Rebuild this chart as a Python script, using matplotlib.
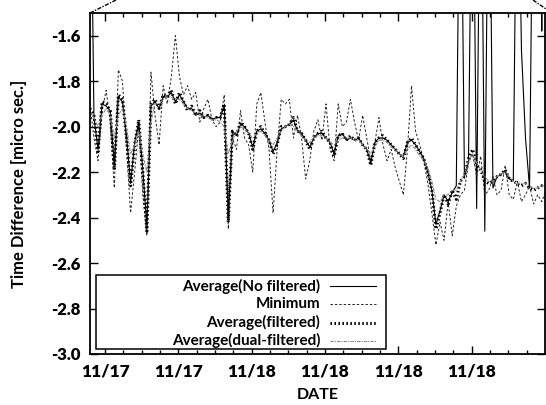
import matplotlib
matplotlib.use("Agg")
import matplotlib.pyplot as plt
import matplotlib.dates as mdates
from matplotlib.ticker import MultipleLocator, FormatStrFormatter
from matplotlib.patches import Rectangle
from matplotlib.lines import Line2D
import pandas as pd

# 20-minute samples, 11/17 10:45 -> 11/19 00:05
times = pd.date_range("2008-11-17 10:45", periods=113, freq="20min")

# time difference [micro sec.]
avg_raw = [
    -0.50, -1.96, -2.10, -1.90, -1.91, -1.93, -2.17, -1.87, -1.89, -2.04,
    -2.25, -2.07, -1.98, -2.19, -2.44, -1.91, -1.89, -1.92, -1.87, -1.87,
    -1.85, -1.89, -1.86, -1.89, -1.92, -1.92, -1.95, -1.94, -1.96, -1.95,
    -1.97, -1.96, -1.96, -1.91, -2.40, -2.02, -2.04, -1.99, -2.00, -2.03,
    -2.09, -2.02, -2.01, -2.03, -2.06, -2.11, -2.07, -2.01, -2.00, -1.99,
    -1.97, -2.02, -2.03, -2.06, -2.09, -2.05, -2.03, -2.03, -2.05, -2.07,
    -2.12, -2.04, -2.03, -2.06, -2.05, -2.06, -2.05, -2.08, -2.10, -2.16,
    -2.07, -2.05, -2.05, -2.06, -2.08, -2.10, -2.12, -2.13, -2.07, -2.06,
    -2.08, -2.11, -2.14, -2.20, -2.28, -2.43, -2.37, -2.30, -2.33, -2.29,
    -2.26, -0.50, -2.22, -2.15, -0.50, -2.36, -0.50, -2.46, -0.50, -2.27,
    -2.22, -2.21, -2.20, -2.23, -2.24, -0.50, -1.66, -2.05, -2.27, -0.50,
    -0.50, -1.58, -0.50,
]

minimum = [
    -1.90, -2.05, -2.15, -1.93, -1.84, -1.98, -2.27, -1.75, -1.80, -2.10,
    -2.38, -2.20, -2.00, -2.30, -2.48, -1.76, -1.95, -2.08, -1.82, -1.90,
    -1.78, -1.60, -1.78, -1.86, -1.82, -1.88, -1.85, -1.98, -1.92, -1.88,
    -1.97, -2.00, -1.98, -1.86, -2.45, -2.05, -2.10, -1.93, -2.05, -2.08,
    -2.20, -1.90, -1.85, -1.98, -2.10, -2.38, -2.10, -1.88, -1.90, -1.88,
    -2.05, -1.95, -2.05, -2.23, -2.15, -2.02, -1.97, -2.06, -1.90, -2.10,
    -2.15, -1.90, -2.00, -1.98, -1.88, -1.98, -2.06, -1.95, -2.05, -2.15,
    -2.07, -1.96, -2.08, -2.15, -2.10, -2.18, -2.24, -2.30, -2.10, -1.82,
    -2.02, -2.08, -2.15, -2.25, -2.38, -2.52, -2.42, -2.50, -2.33, -2.48,
    -2.35, -2.30, -2.28, -2.16, -2.12, -2.22, -2.13, -2.30, -2.28, -2.22,
    -2.30, -2.28, -2.17, -2.30, -2.32, -2.24, -2.33, -2.30, -2.26, -2.34,
    -2.30, -2.33, -2.28,
]

avg_filtered = [
    -1.92, -1.95, -2.11, -1.89, -1.90, -1.93, -2.19, -1.86, -1.88, -2.05,
    -2.26, -2.08, -1.97, -2.20, -2.46, -1.90, -1.88, -1.92, -1.86, -1.87,
    -1.84, -1.90, -1.85, -1.89, -1.93, -1.91, -1.95, -1.93, -1.96, -1.95,
    -1.97, -1.96, -1.96, -1.90, -2.42, -2.02, -2.04, -1.98, -2.00, -2.03,
    -2.10, -2.02, -2.00, -2.03, -2.06, -2.12, -2.08, -2.00, -2.00, -1.99,
    -1.96, -2.02, -2.03, -2.06, -2.10, -2.05, -2.03, -2.02, -2.05, -2.07,
    -2.13, -2.04, -2.03, -2.06, -2.04, -2.06, -2.05, -2.08, -2.10, -2.17,
    -2.07, -2.05, -2.04, -2.06, -2.08, -2.10, -2.12, -2.14, -2.07, -2.05,
    -2.08, -2.11, -2.14, -2.20, -2.28, -2.45, -2.38, -2.30, -2.34, -2.28,
    -2.32, -2.24, -2.22, -2.14, -2.10, -2.17, -2.19, -2.24, -2.25, -2.24,
    -2.22, -2.21, -2.19, -2.23, -2.24, -2.25, -2.26, -2.25, -2.27, -2.28,
    -2.27, -2.26, -2.26,
]

avg_dual = [
    -1.93, -1.96, -2.00, -1.95, -1.92, -1.95, -2.05, -1.95, -1.92, -2.00,
    -2.12, -2.08, -2.02, -2.12, -2.20, -1.98, -1.90, -1.90, -1.88, -1.87,
    -1.87, -1.88, -1.88, -1.90, -1.92, -1.93, -1.94, -1.95, -1.95, -1.96,
    -1.97, -1.97, -1.98, -2.00, -2.12, -2.06, -2.02, -2.00, -2.01, -2.03,
    -2.05, -2.03, -2.02, -2.04, -2.06, -2.08, -2.05, -2.02, -2.00, -1.99,
    -2.00, -2.02, -2.04, -2.06, -2.07, -2.05, -2.04, -2.04, -2.05, -2.07,
    -2.08, -2.06, -2.05, -2.05, -2.05, -2.06, -2.06, -2.08, -2.10, -2.12,
    -2.09, -2.06, -2.06, -2.07, -2.09, -2.10, -2.12, -2.13, -2.10, -2.08,
    -2.10, -2.13, -2.15, -2.18, -2.24, -2.32, -2.33, -2.30, -2.30, -2.28,
    -2.28, -2.24, -2.21, -2.15, -2.12, -2.16, -2.19, -2.22, -2.24, -2.24,
    -2.22, -2.21, -2.20, -2.22, -2.24, -2.25, -2.25, -2.25, -2.26, -2.27,
    -2.27, -2.26, -2.26,
]

series_labels = [
    "Average(No filtered)",
    "Minimum",
    "Average(filtered)",
    "Average(dual-filtered)",
]

plt.rcParams["font.family"] = ["Lato", "DejaVu Sans"]
plt.rcParams["axes.unicode_minus"] = False

line_styles = [
    dict(color="black", lw=0.8, ls="-"),
    dict(color="#222222", lw=0.7, ls=(0, (2.5, 2))),
    dict(color="black", lw=2.2, ls=(0, (0.5, 0.8))),
    dict(color="#8a8a8a", lw=0.8, ls=(0, (3, 1, 1, 1))),
]

fig = plt.figure(figsize=(5.46, 4.05), dpi=100)
ax = fig.add_axes([0.165, 0.126, 0.8325, 0.842])

for values, style in zip([avg_raw, minimum, avg_filtered, avg_dual], line_styles):
    ax.plot(times, values, **style)

ax.set_xlim(pd.Timestamp("2008-11-17 10:46"), pd.Timestamp("2008-11-18 23:59"))
ax.set_ylim(-3.0, -1.5)

ax.yaxis.set_major_locator(MultipleLocator(0.2))
ax.yaxis.set_major_formatter(FormatStrFormatter("%.1f"))
ax.xaxis.set_major_locator(mdates.HourLocator(byhour=[0, 6, 12, 18]))
ax.xaxis.set_minor_locator(MultipleLocator(1.5 / 24))
ax.xaxis.set_major_formatter(mdates.DateFormatter("%m/%d"))

ax.tick_params(which="both", direction="in", top=True, right=True, width=1)
ax.tick_params(which="major", length=6, pad=7)
ax.tick_params(axis="x", which="major", labelsize=12.5)
ax.tick_params(axis="y", which="major", labelsize=12)
ax.tick_params(which="minor", length=3)
for lbl in ax.get_xticklabels() + ax.get_yticklabels():
    lbl.set_fontweight("heavy")
for sp in ax.spines.values():
    sp.set_linewidth(1.3)

fig.text(0.035, 0.545, "Time Difference [micro sec.]", rotation=90,
         ha="center", va="center", fontsize=12, fontweight="bold")
fig.text(318 / 546, 1 - 395 / 405, "DATE", ha="center", va="center",
         fontsize=11.5, fontweight="bold")

# legend box, labels right-aligned in front of the line samples
ax.add_patch(Rectangle((0.013, 0.015), 0.637, 0.217, transform=ax.transAxes,
                       facecolor="white", edgecolor="black", lw=1.1, zorder=5))
for label, ypos, style in zip(series_labels, [0.199, 0.146, 0.092, 0.039], line_styles):
    ax.text(0.506, ypos, label, transform=ax.transAxes, ha="right", va="center",
            fontsize=11, fontweight="bold", zorder=6)
    ax.add_line(Line2D([0.528, 0.628], [ypos, ypos], transform=ax.transAxes,
                       zorder=6, **style))

# zoom guide lines leaving the top corners
guide = dict(transform=fig.transFigure, color="black", lw=1.0, ls=(0, (3, 1, 1, 1)))
fig.add_artist(Line2D([90 / 546, 116 / 546], [1 - 13 / 405, 1.0], **guide))
fig.add_artist(Line2D([533 / 546, 546 / 546], [1.0, 1 - 9 / 405], **guide))

fig.savefig("out.png", dpi=100)
